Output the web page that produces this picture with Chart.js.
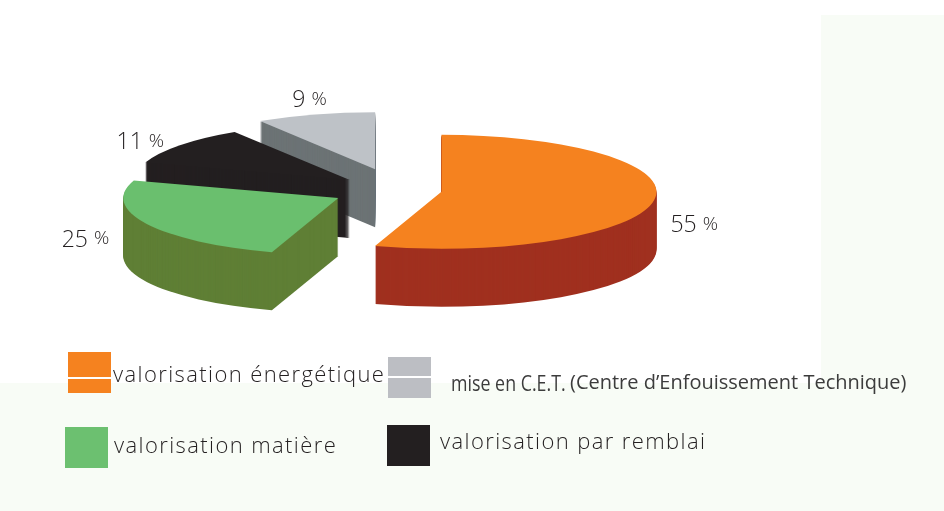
<!DOCTYPE html>
<html>
<head>
<meta charset="utf-8">
<script src="https://cdn.jsdelivr.net/npm/chart.js@4.4.1/dist/chart.umd.min.js"></script>
<style>
  body { margin: 0; width: 944px; height: 511px; overflow: hidden; background: #fff; position: relative; font-family: "Open Sans", sans-serif; }
  .tint { position: absolute; background: #f8fcf6; }
  #chart { position: absolute; left: 0; top: 0; }
  .box { position: absolute; width: 43px; height: 41px; }
  .key { position: absolute; font-size: 22px; font-weight: 300; letter-spacing: 1.4px; color: #231f20; white-space: nowrap; line-height: 1; }
  .key .squeeze { display: inline-block; transform: scaleX(0.81); transform-origin: left center; letter-spacing: 0; font-weight: 400; color: #3c3c3c; }
  .key .small { position: absolute; left: 119px; top: 1px; font-size: 20px; font-weight: 400; letter-spacing: 0; color: #3c3c3c; }
</style>
</head>
<body>
<div class="tint" style="left:821px;top:15px;width:123px;height:496px"></div>
<div class="tint" style="left:0;top:383px;width:944px;height:128px"></div>
<canvas id="chart" width="944" height="511"></canvas>
<div id="legend"></div>
<script>
// share of each treatment route (%)
const categories = ['valorisation énergétique', 'valorisation matière', 'valorisation par remblai', 'mise en C.E.T. (Centre d’Enfouissement Technique)'];
const shares = [55, 25, 11, 9];

const topColors = ['#f5821f', '#6abf6e', '#231f20', '#bec2c7'];
const sideColors = ['#a0301f', '#5f7f35', '#231f20', '#6c7375'];
const legendColors = ['#f5821f', '#6cc070', '#231f20', '#bcbec3'];
const explode = [44, 67, 61, 82];

// legend boxes/text, placed like the original layout (line = white stripe in %)
const legendSpots = [
  { box: [68, 352], text: [113, 362], line: [61, 66] },
  { box: [65, 427], text: [114, 433] },
  { box: [387, 425], text: [440, 429] },
  { box: [388, 357], text: [451, 371], line: [47, 52] }
];

const legend = document.getElementById('legend');
categories.forEach((name, i) => {
  const spot = legendSpots[i];
  const c = legendColors[i];
  const box = document.createElement('div');
  box.className = 'box';
  box.style.left = spot.box[0] + 'px';
  box.style.top = spot.box[1] + 'px';
  box.style.background = spot.line
    ? `linear-gradient(${c} 0 ${spot.line[0]}%, #fff ${spot.line[0]}% ${spot.line[1]}%, ${c} ${spot.line[1]}%)`
    : c;
  legend.appendChild(box);

  const key = document.createElement('div');
  key.className = 'key';
  key.style.left = spot.text[0] + 'px';
  key.style.top = spot.text[1] + 'px';
  const cut = name.indexOf(' (');
  if (cut > 0) {
    const main = document.createElement('span');
    main.className = 'squeeze';
    main.textContent = name.slice(0, cut);
    const small = document.createElement('span');
    small.className = 'small';
    small.textContent = name.slice(cut + 1);
    key.appendChild(main);
    key.appendChild(small);
  } else {
    key.textContent = name;
  }
  legend.appendChild(key);
});

// draws the pie as a tilted, extruded and exploded disc from the arc elements
const pie3d = {
  id: 'pie3d',
  beforeDatasetsDraw(chart, args, opts) {
    const ctx = chart.ctx;
    const meta = chart.getDatasetMeta(0);
    const slices = meta.data.map((arc, i) => {
      const p = arc.getProps(['x', 'y', 'startAngle', 'endAngle', 'outerRadius'], true);
      const mid = (p.startAngle + p.endAngle) / 2;
      return {
        ...p, i, mid,
        color: arc.options.backgroundColor,
        ox: p.x + Math.cos(mid) * opts.explode[i],
        oy: p.y + Math.sin(mid) * opts.explode[i] * opts.tilt
      };
    });

    const trace = (s, dy) => {
      ctx.save();
      ctx.translate(s.ox, s.oy + dy);
      ctx.scale(1, opts.tilt);
      ctx.beginPath();
      ctx.moveTo(0, 0);
      ctx.arc(0, 0, s.outerRadius, s.startAngle, s.endAngle);
      ctx.closePath();
      ctx.restore();
    };

    ctx.save();
    slices.slice().sort((a, b) => a.oy - b.oy).forEach(s => {
      ctx.fillStyle = opts.sideColors[s.i];
      for (let dy = opts.depth; dy > 0; dy--) {
        trace(s, dy);
        ctx.fill();
      }
      trace(s, 0);
      ctx.fillStyle = s.color;
      ctx.fill();
    });

    // percentage labels: front slices beside their wall, back slices out along the radius
    ctx.fillStyle = '#231f20';
    const numFont = '300 23px "Open Sans"';
    const pctFont = '300 19px "Open Sans"';
    slices.forEach(s => {
      const c = Math.cos(s.mid), n = Math.sin(s.mid);
      const R = s.outerRadius, g = opts.labelGap;
      let lx, ly, align, base = 'middle';
      if (n > 0) {
        lx = s.ox + Math.sign(c) * (R + g);
        ly = s.oy + n * R * opts.tilt / 2 + opts.depth / 2;
        align = c > 0 ? 'left' : 'right';
      } else {
        lx = s.ox + c * (R + g + 6);
        ly = s.oy + n * (R + g) * opts.tilt;
        align = c > 0.35 ? 'left' : c < -0.35 ? 'right' : 'center';
        if (align === 'center') base = 'bottom';
      }
      const num = String(chart.data.datasets[0].data[s.i]);
      ctx.font = numFont;
      const wn = ctx.measureText(num + ' ').width;
      ctx.font = pctFont;
      const wp = ctx.measureText('%').width;
      const w = wn + wp;
      const x0 = align === 'left' ? lx : align === 'right' ? lx - w : lx - w / 2;
      const yMid = base === 'bottom' ? ly - 10 : ly;
      ctx.textAlign = 'left';
      ctx.textBaseline = 'middle';
      ctx.font = numFont;
      ctx.fillText(num, x0, yMid);
      ctx.font = pctFont;
      ctx.fillText('%', x0 + wn, yMid - 1);
    });
    ctx.restore();
    return false;
  }
};

new Chart(document.getElementById('chart'), {
  type: 'pie',
  data: {
    labels: categories,
    datasets: [{ data: shares, backgroundColor: topColors, borderWidth: 0 }]
  },
  options: {
    responsive: false,
    animation: false,
    events: [],
    radius: 215,
    layout: { padding: { left: 0, top: 0, right: 148, bottom: 131 } },
    plugins: {
      legend: { display: false },
      tooltip: { enabled: false },
      pie3d: { tilt: 0.265, depth: 58, labelGap: 14, explode, sideColors }
    }
  },
  plugins: [pie3d]
});
</script>
</body>
</html>
